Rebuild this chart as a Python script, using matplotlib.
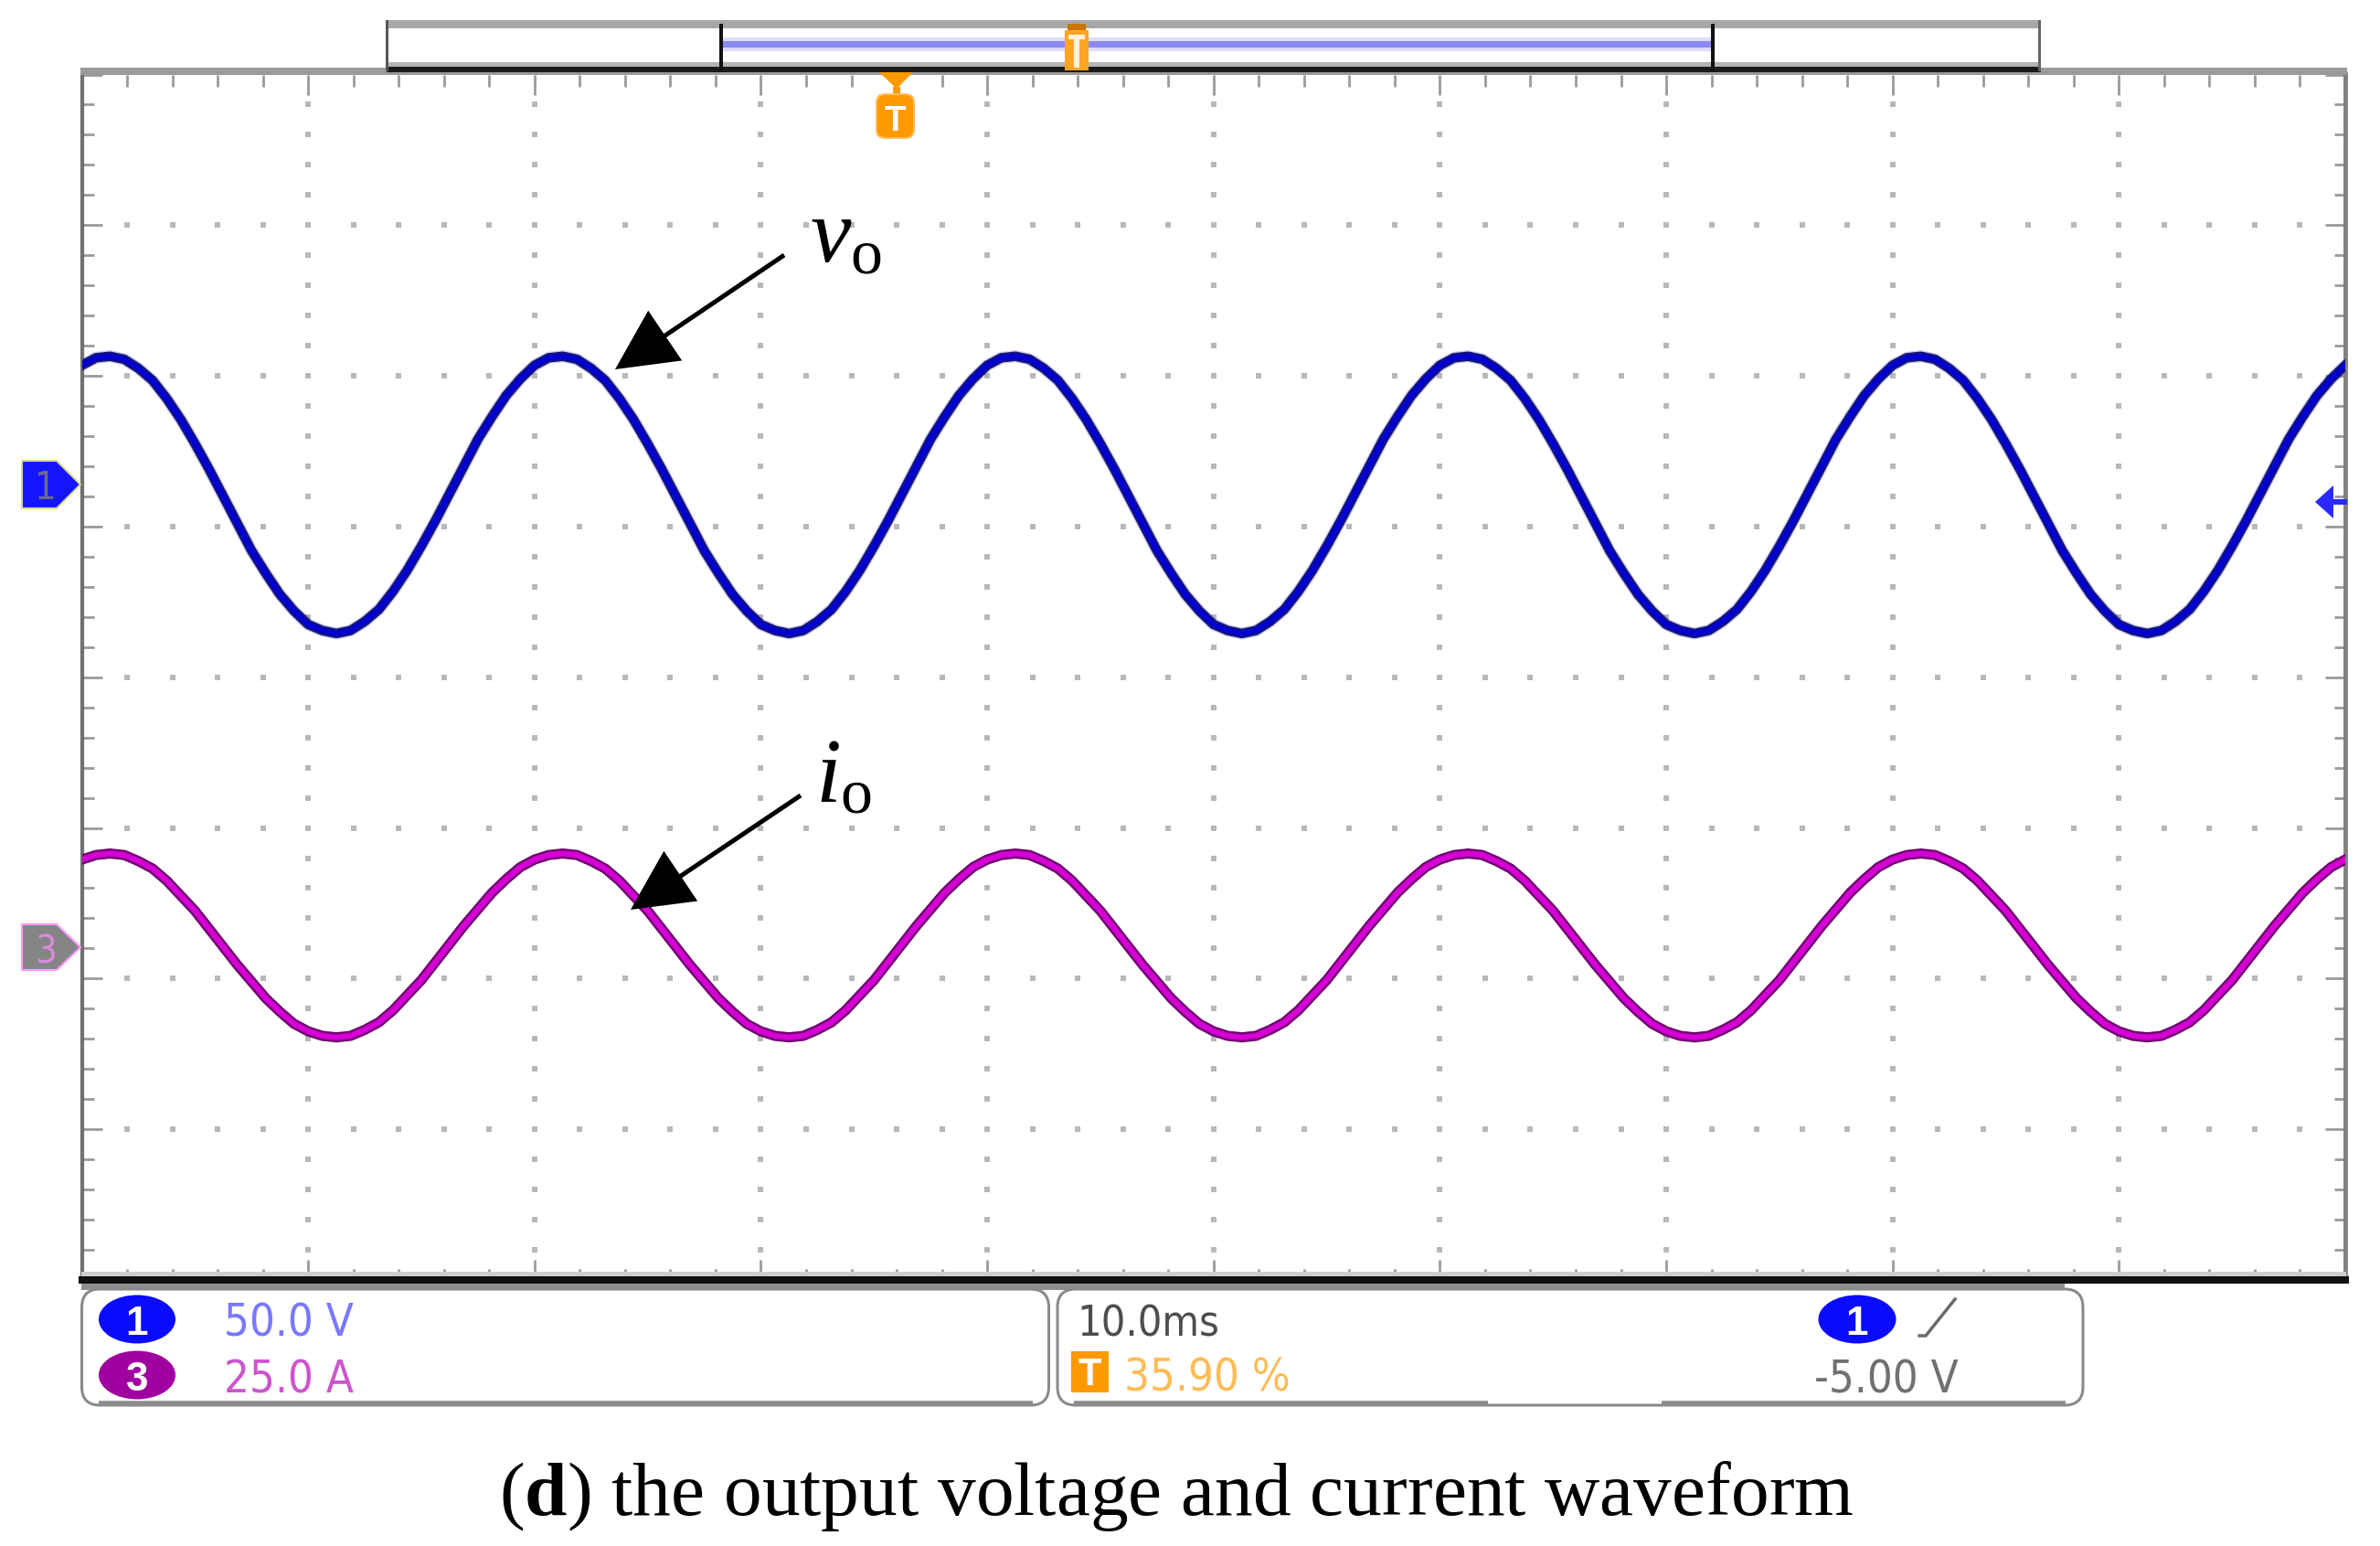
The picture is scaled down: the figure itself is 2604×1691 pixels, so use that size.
import numpy as np
import matplotlib
matplotlib.use('Agg')
import matplotlib.pyplot as plt
from matplotlib import font_manager
from matplotlib.font_manager import FontProperties
from matplotlib.patches import Rectangle, Polygon, Ellipse, FancyBboxPatch, FancyArrow

t_ms = np.linspace(0, 100, 161)   # one reading every 0.625 ms

v_div = [2.07, 2.12, 2.13, 2.11, 2.05, 1.97, 1.85, 1.71, 1.55, 1.38, 1.20, 1.02, 0.84, 0.69, 0.55, 0.44,
         0.35, 0.31, 0.29, 0.31, 0.37, 0.45, 0.57, 0.71, 0.87, 1.04, 1.22, 1.40, 1.58, 1.73, 1.87, 1.98,
         2.07, 2.12, 2.13, 2.11, 2.05, 1.97, 1.85, 1.71, 1.55, 1.38, 1.20, 1.02, 0.84, 0.69, 0.55, 0.44,
         0.35, 0.31, 0.29, 0.31, 0.37, 0.45, 0.57, 0.71, 0.87, 1.04, 1.22, 1.40, 1.58, 1.73, 1.87, 1.98,
         2.07, 2.12, 2.13, 2.11, 2.05, 1.97, 1.85, 1.71, 1.55, 1.38, 1.20, 1.02, 0.84, 0.69, 0.55, 0.44,
         0.35, 0.31, 0.29, 0.31, 0.37, 0.45, 0.57, 0.71, 0.87, 1.04, 1.22, 1.40, 1.58, 1.73, 1.87, 1.98,
         2.07, 2.12, 2.13, 2.11, 2.05, 1.97, 1.85, 1.71, 1.55, 1.38, 1.20, 1.02, 0.84, 0.69, 0.55, 0.44,
         0.35, 0.31, 0.29, 0.31, 0.37, 0.45, 0.57, 0.71, 0.87, 1.04, 1.22, 1.40, 1.58, 1.73, 1.87, 1.98,
         2.07, 2.12, 2.13, 2.11, 2.05, 1.97, 1.85, 1.71, 1.55, 1.38, 1.20, 1.02, 0.84, 0.69, 0.55, 0.44,
         0.35, 0.31, 0.29, 0.31, 0.37, 0.45, 0.57, 0.71, 0.87, 1.04, 1.22, 1.40, 1.58, 1.73, 1.87, 1.98,
         2.07]

i_div = [-1.21, -1.18, -1.17, -1.18, -1.22, -1.27, -1.35, -1.45, -1.55, -1.67, -1.79, -1.91, -2.02, -2.13, -2.22, -2.30,
         -2.35, -2.38, -2.39, -2.38, -2.34, -2.29, -2.21, -2.11, -2.01, -1.89, -1.77, -1.65, -1.54, -1.43, -1.34, -1.26,
         -1.21, -1.18, -1.17, -1.18, -1.22, -1.27, -1.35, -1.45, -1.55, -1.67, -1.79, -1.91, -2.02, -2.13, -2.22, -2.30,
         -2.35, -2.38, -2.39, -2.38, -2.34, -2.29, -2.21, -2.11, -2.01, -1.89, -1.77, -1.65, -1.54, -1.43, -1.34, -1.26,
         -1.21, -1.18, -1.17, -1.18, -1.22, -1.27, -1.35, -1.45, -1.55, -1.67, -1.79, -1.91, -2.02, -2.13, -2.22, -2.30,
         -2.35, -2.38, -2.39, -2.38, -2.34, -2.29, -2.21, -2.11, -2.01, -1.89, -1.77, -1.65, -1.54, -1.43, -1.34, -1.26,
         -1.21, -1.18, -1.17, -1.18, -1.22, -1.27, -1.35, -1.45, -1.55, -1.67, -1.79, -1.91, -2.02, -2.13, -2.22, -2.30,
         -2.35, -2.38, -2.39, -2.38, -2.34, -2.29, -2.21, -2.11, -2.01, -1.89, -1.77, -1.65, -1.54, -1.43, -1.34, -1.26,
         -1.21, -1.18, -1.17, -1.18, -1.22, -1.27, -1.35, -1.45, -1.55, -1.67, -1.79, -1.91, -2.02, -2.13, -2.22, -2.30,
         -2.35, -2.38, -2.39, -2.38, -2.34, -2.29, -2.21, -2.11, -2.01, -1.89, -1.77, -1.65, -1.54, -1.43, -1.34, -1.26,
         -1.21]

ch1_scale = '50.0 V'
ch3_scale = '25.0 A'
timebase = '10.0ms'
trig_pos = '35.90 %'
trig_level = '-5.00 V'
caption = r'($\mathbf{d}$) the output voltage and current waveform'

W, H = 2604, 1691


def pick_scope_font():
    ''' Narrow sans like the scope readout, falling back to plain Liberation Sans. '''
    fl = font_manager.fontManager.ttflist
    for f in fl:
        if f.name == 'Liberation Sans Narrow' and f.style == 'normal' and f.weight in (400, 'normal', 'regular'):
            return f.fname, 1.0
    for f in fl:
        if f.name == 'DejaVu Sans' and f.stretch == 'condensed' and f.style == 'normal' \
                and f.weight in (400, 'normal', 'regular') and 'Condensed' in f.fname:
            return f.fname, 0.88
    return None, 0.85


scope_path, scope_k = pick_scope_font()


def sfont(size, bold=False):
    if scope_path is not None and not bold:
        return FontProperties(fname=scope_path, size=size * scope_k)
    return FontProperties(family='Liberation Sans', size=size * (0.85 if scope_path is None else scope_k),
                          weight='bold' if bold else 'normal')


plt.rcParams['font.family'] = ['Liberation Serif', 'DejaVu Serif']
plt.rcParams['mathtext.fontset'] = 'custom'
plt.rcParams['mathtext.rm'] = 'Liberation Serif'
plt.rcParams['mathtext.it'] = 'Liberation Serif:italic'
plt.rcParams['mathtext.bf'] = 'Liberation Serif:bold'

fig = plt.figure(figsize=(W / 100, H / 100), dpi=100)

## main scope screen
x0, x1 = 89.5, 2566
y0, y1 = 81.5, 1400
ax = fig.add_axes([x0 / W, 1 - y1 / H, (x1 - x0) / W, (y1 - y0) / H])
ax.set_xlim(0, 100)
ax.set_ylim(-4, 4)
ax.set_xticks(np.arange(0, 101, 10))
ax.set_xticks(np.arange(0, 101, 2), minor=True)
ax.set_yticks(np.arange(-4, 4.01, 1))
ax.set_yticks(np.arange(-4, 4.01, 0.2), minor=True)
ax.tick_params(which='both', direction='in', top=True, right=True,
               labelbottom=False, labelleft=False, color='#9a9a9a')
ax.tick_params(which='major', length=16, width=2)
ax.tick_params(which='minor', length=9, width=2)
ax.spines['top'].set_visible(False)
ax.spines['bottom'].set_color('#111111')
ax.spines['bottom'].set_linewidth(5.8)
ax.spines['left'].set_color('#707070')
ax.spines['left'].set_linewidth(3)
ax.spines['right'].set_color('#808080')
ax.spines['right'].set_linewidth(3.5)

# dotted graticule
for gx in range(10, 100, 10):
    gy = np.arange(-3.8, 3.81, 0.2)
    ax.plot(np.full(len(gy), gx), gy, ls='none', marker='s', ms=4.5, mew=0, color='#b8b8b8', zorder=1)
for gy in range(-3, 4):
    gx = np.arange(2, 99, 2)
    ax.plot(gx, np.full(len(gx), gy), ls='none', marker='s', ms=4.5, mew=0, color='#b8b8b8', zorder=1)

# traces
ax.plot(t_ms, v_div, color='#5a5ad0', lw=9.5, alpha=0.3, solid_joinstyle='round', zorder=2)
ax.plot(t_ms, v_div, color='#14147a', lw=7.5, solid_joinstyle='round', zorder=3)
ax.plot(t_ms, v_div, color='#0000d2', lw=4.2, solid_joinstyle='round', zorder=4)
ax.plot(t_ms, i_div, color='#6e006e', lw=8, solid_joinstyle='round', zorder=3)
ax.plot(t_ms, i_div, color='#d400d4', lw=4.6, solid_joinstyle='round', zorder=4)

## overlay in pixel units for the scope furniture
ov = fig.add_axes([0, 0, 1, 1], zorder=5)
ov.set_xlim(0, W)
ov.set_ylim(H, 0)
ov.axis('off')

# top frame
ov.add_patch(Rectangle((88, 74), 2480, 8, color='#9a9a9a', lw=0))
ov.add_patch(Rectangle((423, 22), 1810, 51, fc='white', ec='none'))
ov.add_patch(Rectangle((423, 22), 1810, 9, color='#a8a8a8', lw=0))
ov.add_patch(Rectangle((423, 68), 1810, 5, color='#b4b4b4', lw=0))
ov.add_patch(Rectangle((423, 73), 1810, 6, color='#1a1a1a', lw=0))
ov.add_patch(Rectangle((422, 22), 3, 56, color='#555555', lw=0))
ov.add_patch(Rectangle((2230, 22), 3, 56, color='#666666', lw=0))
ov.add_patch(Rectangle((789, 41), 1085, 15, color='#dcdcff', lw=0))
ov.add_patch(Rectangle((789, 45), 1085, 7, color='#8a8af2', lw=0))
ov.add_patch(Rectangle((787, 26), 4, 52, color='#111111', lw=0))
ov.add_patch(Rectangle((1872, 26), 4, 52, color='#111111', lw=0))
# trigger-point marker in the memory bar
ov.add_patch(Rectangle((1168, 26), 20, 7, color='#c87800', lw=0))
ov.add_patch(Rectangle((1165, 33), 26, 44, color='#ffa526', lw=0))
ov.add_patch(Rectangle((1175, 38), 6, 36, color='#fff2dd', lw=0))
ov.add_patch(Rectangle((1169, 38), 18, 5, color='#fff2dd', lw=0))
# trigger marker under the frame
ov.add_patch(Polygon([(962, 79), (999, 79), (981, 97)], closed=True, color='#ff9900', lw=0))
ov.add_patch(Rectangle((977, 95), 8, 8, color='#ff9900', lw=0))
ov.add_patch(FancyBboxPatch((959, 103), 41, 48, boxstyle='round,pad=0,rounding_size=9',
                            fc='#ff9900', ec='#ffc061', lw=1.5))
ov.text(979.5, 143, 'T', color='white', ha='center', va='baseline',
        family='Liberation Sans', size=28, weight='bold')

# bottom frame bands
ov.add_patch(Rectangle((89, 1391), 2478, 5, color='#cfcfcf', lw=0, zorder=0))
ov.add_patch(Rectangle((89, 1404), 2170, 7, color='#8f8f8f', lw=0))

# channel reference markers
ov.add_patch(Polygon([(24, 504), (62, 504), (88, 530), (62, 556), (24, 556)], closed=True,
                     fc='#1414ff', ec='#d8d890', lw=1.5))
ov.text(50, 546, '1', color='#6a6a8a', ha='center', va='baseline', fontproperties=sfont(34))
ov.add_patch(Polygon([(24, 1011), (62, 1011), (88, 1036), (62, 1061), (24, 1061)], closed=True,
                     fc='#858585', ec='#ff99ff', lw=1.5))
ov.text(50, 1053, '3', color='#d98cd9', ha='center', va='baseline', fontproperties=sfont(34))

# trigger level arrow on the right
ov.add_patch(Polygon([(2533, 549), (2553, 531), (2553, 567)], closed=True, color='#2a2aff', lw=0))
ov.add_patch(Rectangle((2550, 546), 18, 6, color='#2a2aff', lw=0))

# annotations
ov.add_patch(FancyArrow(858, 279, 673 - 858, 404 - 279, width=5, head_width=66, head_length=66,
                        length_includes_head=True, color='black', lw=0))
ov.add_patch(FancyArrow(876, 870, 690 - 876, 995 - 870, width=5, head_width=66, head_length=66,
                        length_includes_head=True, color='black', lw=0))
ov.text(886, 287, r'$v_{\mathrm{o}}$', size=72, ha='left', va='baseline')
ov.text(892, 877, r'$i_{\mathrm{o}}$', size=72, ha='left', va='baseline')

# info boxes
ov.add_patch(FancyBboxPatch((89.5, 1410), 1058, 127, boxstyle='round,pad=0,rounding_size=20',
                            fc='white', ec='#8a8a8a', lw=2.2))
ov.add_patch(FancyBboxPatch((1157, 1410), 1122, 127, boxstyle='round,pad=0,rounding_size=20',
                            fc='white', ec='#8a8a8a', lw=2.2))
ov.plot([108, 1130], [1535, 1535], color='#8c8c8c', lw=4, solid_capstyle='butt')
ov.plot([1175, 1628], [1535, 1535], color='#8c8c8c', lw=4, solid_capstyle='butt')
ov.plot([1818, 2260], [1535, 1535], color='#8c8c8c', lw=4, solid_capstyle='butt')

ov.add_patch(Ellipse((150, 1443), 84, 53, color='#0a0aff', lw=0))
ov.text(150, 1460, '1', color='white', ha='center', va='baseline', fontproperties=sfont(36, bold=True))
ov.add_patch(Ellipse((150, 1504), 84, 53, color='#a000a0', lw=0))
ov.text(150, 1521, '3', color='white', ha='center', va='baseline', fontproperties=sfont(36, bold=True))
ov.text(245, 1462, ch1_scale, color='#7878ff', ha='left', va='baseline', fontproperties=sfont(40))
ov.text(245, 1523, ch3_scale, color='#cc55cc', ha='left', va='baseline', fontproperties=sfont(40))

ov.text(1178, 1462, timebase, color='#4d4d4d', ha='left', va='baseline', fontproperties=sfont(38))
ov.add_patch(Rectangle((1172, 1478), 41, 45, color='#ff9900', lw=0))
ov.text(1192.5, 1515, 'T', color='white', ha='center', va='baseline', fontproperties=sfont(34, bold=True))
ov.text(1230, 1522, trig_pos, color='#ffbb55', ha='left', va='baseline', fontproperties=sfont(40))

ov.add_patch(Ellipse((2032, 1443), 85, 53, color='#0a0aff', lw=0))
ov.text(2032, 1460, '1', color='white', ha='center', va='baseline', fontproperties=sfont(36, bold=True))
ov.plot([2100, 2107, 2139], [1461, 1461, 1421], color='#6a6a6a', lw=2.5)
ov.text(1985, 1523, trig_level, color='#707070', ha='left', va='baseline', fontproperties=sfont(40))

# caption
ov.text(1287, 1657, caption, size=60, ha='center', va='baseline')

fig.savefig('out.png', dpi=100)
